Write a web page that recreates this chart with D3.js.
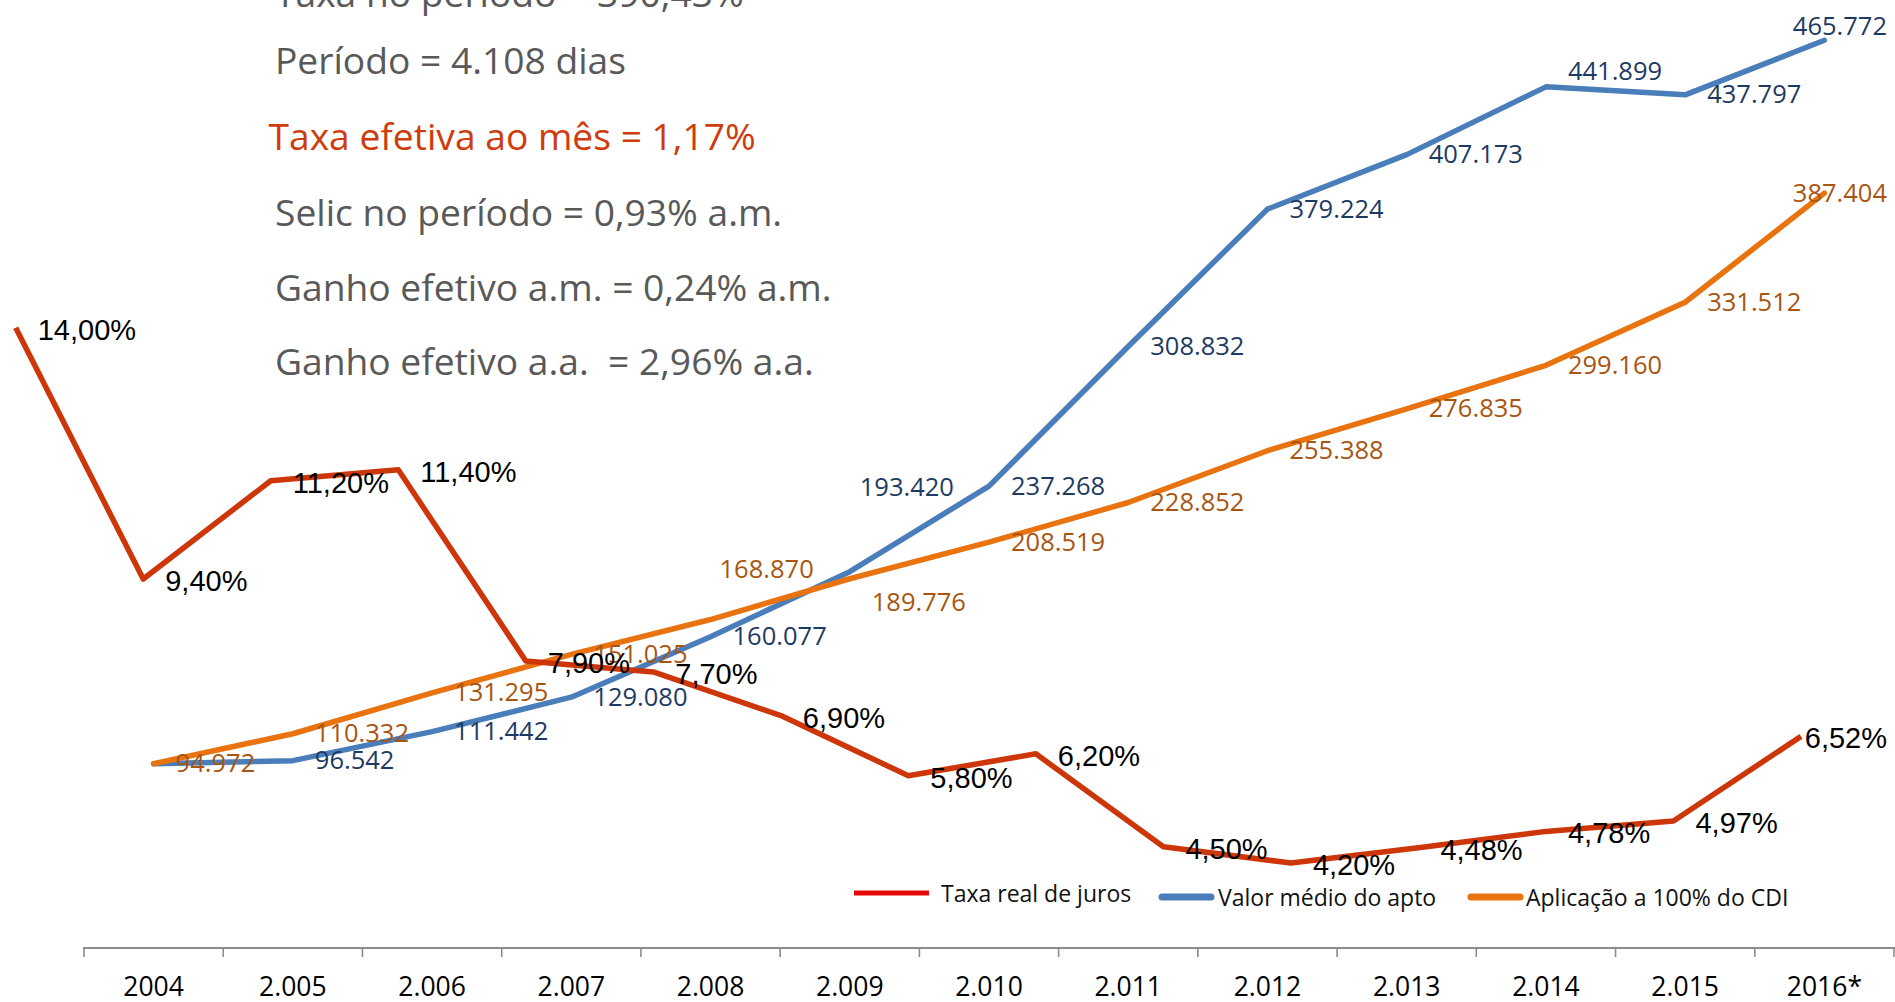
<!DOCTYPE html>
<html lang="pt-BR">
<head>
<meta charset="UTF-8">
<title>Taxa real de juros x Valor médio do apto x CDI</title>
<script src="https://cdn.jsdelivr.net/npm/d3@7"></script>
<style>
  body { margin:0; background:#fff; }
  svg { display:block; }
  .resumo { font-family:"Open Sans", sans-serif; font-size:37.2px; fill:#595959; white-space:pre; }
  .lbl-num { font-family:"Open Sans", sans-serif; font-size:25.5px; }
  .lbl-pct { font-family:"Liberation Sans", Arial, sans-serif; font-size:29px; fill:#000; }
  .cat { font-family:"Open Sans", sans-serif; font-size:26.5px; fill:#000; }
  .leg { font-family:"Open Sans", sans-serif; font-size:23px; fill:#111; }
</style>
</head>
<body>
<svg id="chart" width="1895" height="1002"></svg>
<script>
// ---- dados ----
var anos = ["2004", "2.005", "2.006", "2.007", "2.008", "2.009", "2.010",
            "2.011", "2.012", "2.013", "2.014", "2.015", "2016*"];

var valorApto = [94972, 96542, 111442, 129080, 160077, 193420, 237268,
                 308832, 379224, 407173, 441899, 437797, 465772];

var aplicacaoCDI = [94972, 110332, 131295, 151025, 168870, 189776, 208519,
                    228852, 255388, 276835, 299160, 331512, 387404];

// taxa real de juros (%), eixo secundario com 15 pontos
var taxaJuros = [14.00, 9.40, 11.20, 11.40, 7.90, 7.70, 6.90, 5.80,
                 6.20, 4.50, 4.20, 4.48, 4.78, 4.97, 6.52];

var resumo = ["Taxa no período = 390,43%",
              "Período = 4.108 dias",
              "Taxa efetiva ao mês = 1,17%",
              "Selic no período = 0,93% a.m.",
              "Ganho efetivo a.m. = 0,24% a.m.",
              "Ganho efetivo a.a.  = 2,96% a.a."];

var legenda = ["Taxa real de juros", "Valor médio do apto", "Aplicação a 100% do CDI"];

// ---- cores ----
var corJuros = "#cd3609", corApto = "#4a7ebb", corCDI = "#e8730f";
var corLblApto = "#1d3a62", corLblCDI = "#a8550f";

var svg = d3.select("#chart");
var W = 1895;

var ptBR = d3.formatLocale({decimal: ",", thousands: ".", grouping: [3], currency: ["R$ ", ""]});
var fmtNum = ptBR.format(",d");
var fmtPct = function(v) { return ptBR.format(".2f")(v) + "%"; };

// escalas
var x = d3.scaleBand().domain(anos).range([84, 1894]).padding(0);
var xc = function(i) { return x(anos[i]) + x.bandwidth() / 2; };
var y = d3.scaleLinear().domain([0, 500000]).range([949, -26.5]);

var xJ = d3.scalePoint().domain(d3.range(taxaJuros.length)).range([15.7, 1801]);
var yJ = d3.scaleLinear().domain([0, 20]).range([1092.5, 0]);

// ---- texto de resumo (canto superior) ----
var resumoY = [7, 74, 150, 226, 301, 375];
svg.append("g").selectAll("text").data(resumo).join("text")
  .attr("class", "resumo")
  .attr("x", function(d, i) { return i === 2 ? 268.5 : 275; })
  .attr("y", function(d, i) { return resumoY[i]; })
  .style("fill", function(d, i) { return i === 2 ? "#cf3b0c" : null; })
  .text(function(d) { return d; });

// ---- eixo x ----
var axisG = svg.append("g").attr("transform", "translate(0,948)");
var xAxis = d3.axisBottom(x).tickSize(0).tickPadding(0);
axisG.call(xAxis);
axisG.select(".domain").remove();
axisG.append("line").attr("x1", 83).attr("x2", W).attr("y1", 0).attr("y2", 0)
  .attr("stroke", "#8c8c8c").attr("stroke-width", 2.2);
axisG.selectAll(".tickmark").data(d3.range(anos.length + 1)).join("line")
  .attr("class", "tickmark")
  .attr("x1", function(i) { return 84 + i * x.bandwidth(); })
  .attr("x2", function(i) { return 84 + i * x.bandwidth(); })
  .attr("y1", 0).attr("y2", 9)
  .attr("stroke", "#8c8c8c").attr("stroke-width", 1.6);
axisG.selectAll(".tick text")
  .attr("class", "cat")
  .attr("y", 48)
  .attr("dy", null)
  .attr("font-family", null).attr("font-size", null);

// ---- linhas ----
var linha = function(sx, sy) {
  return d3.line().x(function(d, i) { return sx(i); }).y(function(d) { return sy(d); });
};

svg.append("path").datum(valorApto)
  .attr("d", linha(xc, y))
  .attr("fill", "none").attr("stroke", corApto).attr("stroke-width", 5.5)
  .attr("stroke-linejoin", "round").attr("stroke-linecap", "round");

svg.append("path").datum(aplicacaoCDI)
  .attr("d", linha(xc, y))
  .attr("fill", "none").attr("stroke", corCDI).attr("stroke-width", 5.5)
  .attr("stroke-linejoin", "round").attr("stroke-linecap", "round");

svg.append("path").datum(taxaJuros)
  .attr("d", linha(xJ, yJ))
  .attr("fill", "none").attr("stroke", corJuros).attr("stroke-width", 5.5)
  .attr("stroke-linejoin", "round").attr("stroke-linecap", "butt");

// ---- rotulos ----
// rotulos arrastados a mao no original
var ajusteApto = {5: [-12, -84], 10: [0, -15], 12: [0, -14]};
var ajusteCDI = {4: [-13, -50], 5: [0, 24]};
var limiteDireito = 1887;

function rotulos(cls, valores, sx, sy, fmt, cor, ajuste, pular, dyBase) {
  var g = svg.append("g");
  g.selectAll("text").data(valores).join("text")
    .filter(function(d, i) { return !(pular && pular.indexOf(i) >= 0); })
    .attr("class", cls)
    .attr("dominant-baseline", "central")
    .style("fill", cor)
    .text(function(d) { return fmt(d); })
    .each(function(d) {
      var i = valores.indexOf(d);
      var a = (ajuste && ajuste[i]) || [0, 0];
      var w = this.getComputedTextLength();
      var tx = sx(i) + 22 + a[0];
      if (tx + w > limiteDireito) tx = limiteDireito - w;
      d3.select(this).attr("x", tx).attr("y", sy(d) + dyBase + a[1]);
    });
}

rotulos("lbl-num", valorApto, xc, y, fmtNum, corLblApto, ajusteApto, [0], -1.5);
rotulos("lbl-num", aplicacaoCDI, xc, y, fmtNum, corLblCDI, ajusteCDI, null, -1.5);
rotulos("lbl-pct", taxaJuros, xJ, yJ, fmtPct, null, null, null, 2);

// ---- legenda ----
var legG = svg.append("g");
legG.append("line").attr("x1", 854).attr("x2", 929).attr("y1", 893).attr("y2", 893)
  .attr("stroke", "#e30a0a").attr("stroke-width", 5);
legG.append("text").attr("class", "leg").attr("x", 941).attr("y", 893)
  .attr("dominant-baseline", "central").text(legenda[0]);

legG.append("line").attr("x1", 1162).attr("x2", 1211).attr("y1", 897).attr("y2", 897)
  .attr("stroke", corApto).attr("stroke-width", 7).attr("stroke-linecap", "round");
legG.append("text").attr("class", "leg").attr("x", 1218).attr("y", 897)
  .attr("dominant-baseline", "central").text(legenda[1]);

legG.append("line").attr("x1", 1471).attr("x2", 1520).attr("y1", 897).attr("y2", 897)
  .attr("stroke", corCDI).attr("stroke-width", 7).attr("stroke-linecap", "round");
legG.append("text").attr("class", "leg").attr("x", 1526).attr("y", 897)
  .attr("dominant-baseline", "central").text(legenda[2]);
</script>
</body>
</html>
